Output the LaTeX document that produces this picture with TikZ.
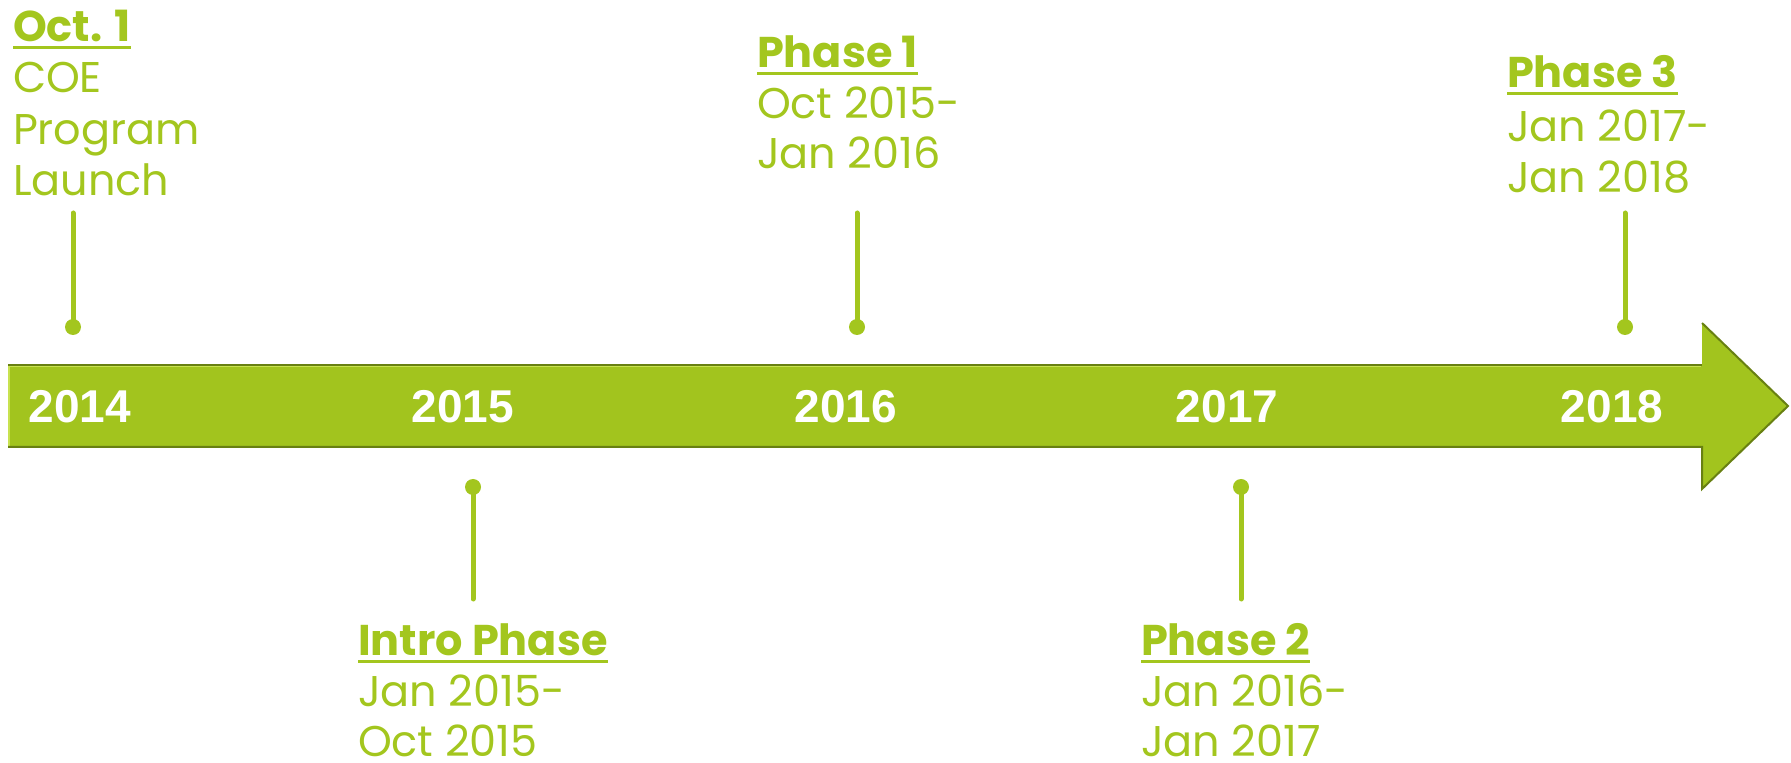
\documentclass[tikz,border=0pt]{standalone}
\usepackage{fontspec}
\setmainfont{Poppins}
\newfontfamily\yearfont{Liberation Sans}
\usetikzlibrary{positioning}
\definecolor{limegreen}{RGB}{163,198,30}
\definecolor{arrowgreen}{RGB}{162,196,30}
\definecolor{arrowedge}{RGB}{104,128,18}
\definecolor{arrowlight}{RGB}{200,226,80}
\tikzset{
    tnode/.style = {inner sep=0pt, outer sep=0pt, anchor=base west},
    head_text/.style = {tnode, text=limegreen, font=\fontsize{21.5}{25.5}\selectfont\bfseries},
    body_text/.style = {tnode, text=limegreen, font=\fontsize{21.5}{25.5}\selectfont},
    last_line/.style = {body_text, text depth=0pt},
    year/.style = {inner sep=0pt, anchor=base, text=white, font=\fontsize{23}{27}\selectfont\yearfont\bfseries},
    uline/.style = {draw=limegreen, line width=1.5pt},
    pin_line/.style = {draw=limegreen, line width=2.5pt, line cap=round},
    pin_dot/.style = {circle, fill=limegreen, inner sep=0pt, minimum size=8pt}
}

\begin{document}
\begin{tikzpicture}[x=0.5pt, y=-0.5pt]
    \useasboundingbox (0,0) rectangle (1791,763);

    % the big arrow
    \fill[arrowgreen] (8,365) -- (1702,365) -- (1702,323) -- (1788,406)
        -- (1702,489) -- (1702,447) -- (8,447) -- cycle;
    \draw[arrowlight, line width=1pt] (9,446) -- (9,366) -- (1701,366);
    \draw[arrowedge, line width=1pt] (8,365) -- (1702,365);
    \draw[arrowedge, line width=1pt] (8,447) -- (1702,447) -- (1702,489) -- (1788,406) -- (1702,323);

    % years
    \foreach \yr/\xc in {2014/80, 2015/463, 2016/846, 2017/1227, 2018/1612}
        \node[year] (y\yr) at (\xc,423) {\yr};

    % pins above
    \foreach \nm/\xc in {launch/73, one/857, three/1625} {
        \coordinate (\nm top) at (\xc,213);
        \node[pin_dot] (\nm dot) at (\xc,327) {};
        \draw[pin_line] (\nm top) -- (\nm dot.center);
    }
    % pins below
    \foreach \nm/\xc in {intro/473, two/1241} {
        \node[pin_dot] (\nm dot) at (\xc,487) {};
        \coordinate (\nm end) at (\xc,599);
        \draw[pin_line] (\nm dot.center) -- (\nm end);
    }

    % Oct. 1
    \node[head_text] (launch) at (13,42) {Oct. 1};
    \node[body_text] (launch1) at (13,93) {COE};
    \node[body_text] (launch2) at (13,145) {Program};
    \node[body_text] (launch3) at (13,196) {Launch};

    % intro phase
    \node[head_text] (intro) at (358,655) {Intro Phase};
    \node[body_text] (intro1) at (358,706) {Jan 2015-};
    \node[last_line] (intro2) at (358,756) {Oct 2015};

    % phase 1
    \node[head_text] (one) at (757,68) {Phase 1};
    \node[body_text] (one1) at (757,119) {Oct 2015-};
    \node[body_text] (one2) at (757,169) {Jan 2016};

    % phase 2
    \node[head_text] (two) at (1141,655) {Phase 2};
    \node[body_text] (two1) at (1141,706) {Jan 2016-};
    \node[last_line] (two2) at (1141,756) {Jan 2017};

    % phase 3
    \node[head_text] (three) at (1507,88) {Phase 3};
    \node[body_text] (three1) at (1507,142) {Jan 2017-};
    \node[body_text] (three2) at (1507,193) {Jan 2018};

    % underlines
    \foreach \nm in {launch, intro, one, two, three}
        \draw[uline] ([yshift=-3pt]\nm.base west) -- ([yshift=-3pt]\nm.base east);
\end{tikzpicture}
\end{document}
